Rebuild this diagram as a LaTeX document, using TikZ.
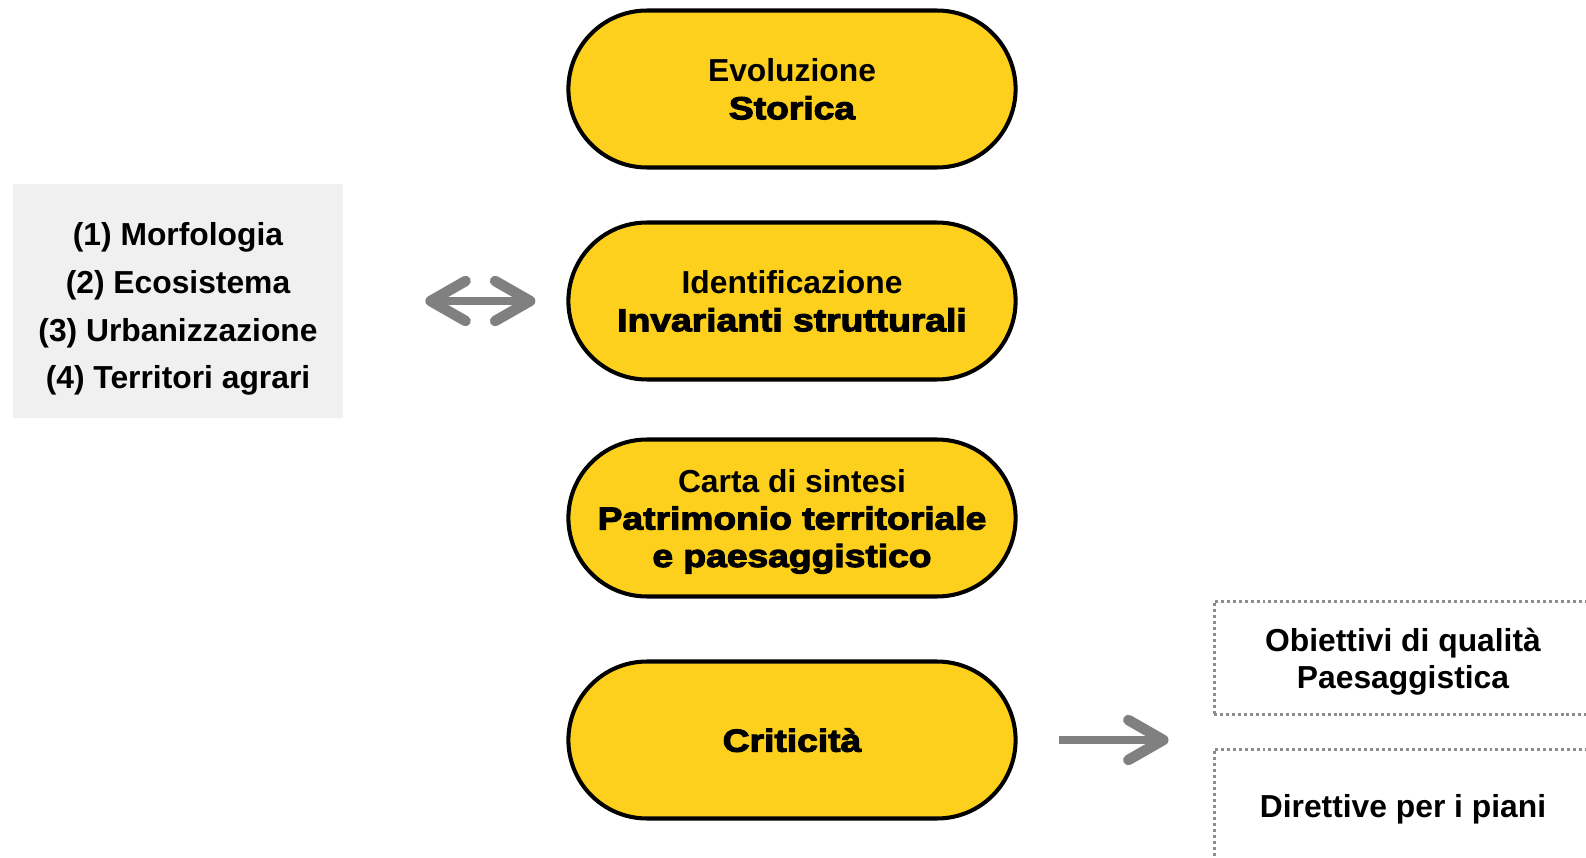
\documentclass[tikz,border=0pt]{standalone}
\usepackage{fontspec}
\setmainfont{Liberation Sans}
\newfontfamily\heavyfont{Liberation Sans}[FakeBold=3.5,FakeStretch=1.17]
\usetikzlibrary{shapes.misc, arrows.meta, positioning, calc}
\definecolor{ocra}{HTML}{FCD01C}
\definecolor{grigio}{HTML}{F0F0F0}
\definecolor{freccia}{HTML}{808080}
\definecolor{tratteggio}{HTML}{8C8C8C}

\begin{document}
\begin{tikzpicture}[x=0.02cm, y=-0.02cm,
  fase/.style={draw=black, line width=2.3pt, fill=ocra, rounded rectangle, minimum width=9.18cm, minimum height=3.14cm, align=center, text depth=0pt, font=\bfseries\fontsize{18.1}{21.3}\selectfont},
  esito/.style={draw=tratteggio, line width=1.7pt, dash pattern=on 1.7pt off 1.7pt, rectangle, minimum width=7.56cm, minimum height=2.28cm, align=center, text depth=0pt, font=\bfseries\fontsize{18.1}{21.2}\selectfont},
  freccia/.style={draw=freccia, line width=5pt},
  punta/.tip={Straight Barb[length=0.7cm, width=0.8cm, line width=6pt, round]}]
\useasboundingbox[fill=white] (0,0) rectangle (1586,858);

% Fasi
\node[fase] (evoluzione) at (792,89) {Evoluzione\\{\heavyfont Storica}};
\node[fase] (invarianti) at (792,301) {Identificazione\\{\heavyfont Invarianti strutturali}};
\node[fase] (carta) at (792,518) {Carta di sintesi\\{\heavyfont Patrimonio territoriale}\\{\heavyfont e paesaggistico}};
\node[fase] (criticita) at (792,740) {{\heavyfont Criticità}};

% Invarianti
\node[fill=grigio, minimum width=6.6cm, minimum height=4.68cm] (legenda) at (178,301) {};
\node[align=center, font=\bfseries\fontsize{18.1}{27.2}\selectfont] (voci) at ([yshift=-0.16cm]legenda.center) {(1) Morfologia\\(2) Ecosistema\\(3) Urbanizzazione\\(4) Territori agrari};

% Esiti
\node[esito] (obiettivi) at (1403,658) {Obiettivi di qualità\\Paesaggistica};
\node[esito] (direttive) at (1403,806) {Direttive per i piani};

\draw[freccia, punta-punta, shorten <=1.64cm, shorten >=0.62cm] (legenda.east) -- (invarianti.west);
\draw[freccia, -punta, shorten <=0.82cm, shorten >=0.88cm] (criticita.east) -- (criticita.east -| obiettivi.west);
\end{tikzpicture}
\end{document}
